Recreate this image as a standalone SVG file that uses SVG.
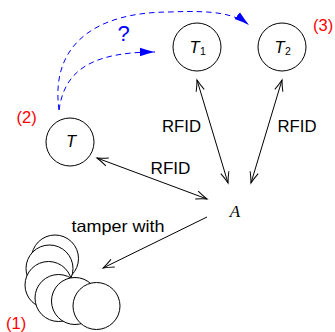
<svg xmlns="http://www.w3.org/2000/svg" width="335" height="332" viewBox="0 0 335 332">
<style>
.node{fill:#fff;stroke:#000;stroke-width:1}
.lbl{font-family:"Liberation Sans",Arial,sans-serif;font-size:16.5px;fill:#000}
.num{font-family:"Liberation Sans",Arial,sans-serif;font-size:16.5px;fill:#ff0000}
.it{font-family:"Liberation Sans",Arial,sans-serif;font-style:italic;font-size:16.5px;fill:#000}
.sub{font-family:"Liberation Sans",Arial,sans-serif;font-size:10.5px;fill:#000}
.arr{stroke:#000;stroke-width:1;fill:none}
.dash{stroke:#0000ff;stroke-width:1;fill:none;stroke-dasharray:5.5 4}
</style>
<defs>
<marker id="open" markerUnits="userSpaceOnUse" markerWidth="14" markerHeight="12" viewBox="-12 -6 14 12" refX="0" refY="0" orient="auto-start-reverse">
<path d="M-11,-4.2 Q-5,-1.5 0,0 Q-5,1.5 -11,4.2" fill="none" stroke="#000" stroke-width="1"/>
</marker>
<marker id="blue" markerUnits="userSpaceOnUse" markerWidth="16" markerHeight="10" viewBox="-15 -5 16 10" refX="0" refY="0" orient="auto">
<path d="M-15,-4.3 Q-7,-1.5 0,0 Q-7,1.5 -15,4.3 Z" fill="#0000ff"/>
</marker>
</defs>
<g id="connectors">
<line class="arr" x1="197" y1="80" x2="228" y2="183" marker-start="url(#open)" marker-end="url(#open)"/>
<line class="arr" x1="282" y1="80" x2="251" y2="183" marker-start="url(#open)" marker-end="url(#open)"/>
<line class="arr" x1="97" y1="158" x2="207" y2="199" marker-start="url(#open)" marker-end="url(#open)"/>
<line class="arr" x1="207" y1="217" x2="103" y2="268" marker-end="url(#open)"/>
<path class="dash" d="M59,110 C50,45 95,12 170,12 C215,10 235,14 249,25" marker-end="url(#blue)"/>
<path class="dash" d="M59,110 C64,75 85,52 155,52" marker-end="url(#blue)"/>
<text class="lbl" x="162" y="132" textLength="39" lengthAdjust="spacingAndGlyphs">RFID</text>
<text class="lbl" x="277.5" y="132" textLength="39" lengthAdjust="spacingAndGlyphs">RFID</text>
<text class="lbl" x="150.5" y="174" textLength="40" lengthAdjust="spacingAndGlyphs">RFID</text>
<text class="lbl" x="71.5" y="231.5" textLength="93" lengthAdjust="spacingAndGlyphs">tamper with</text>
<text x="123.5" y="41" text-anchor="middle" font-family="Liberation Sans, Arial, sans-serif" font-size="22" fill="#0000ff">?</text>
</g>
<g id="T1">
<circle class="node" cx="197" cy="47" r="24"/>
<text class="it" x="189.5" y="52.7">T</text>
<text class="sub" x="200" y="55">1</text>
</g>
<g id="T2">
<circle class="node" cx="282" cy="47" r="24"/>
<text class="it" x="274.5" y="52.7">T</text>
<text class="sub" x="285" y="55">2</text>
<text class="num" x="313" y="30.5">(3)</text>
</g>
<g id="T">
<circle class="node" cx="70" cy="142" r="24"/>
<text class="it" x="71" y="146.7" text-anchor="middle">T</text>
<text class="num" x="16.5" y="122.7">(2)</text>
</g>
<g id="A">
<text x="235" y="217" text-anchor="middle" font-family="Liberation Serif, Times New Roman, serif" font-style="italic" font-size="17" fill="#000">A</text>
</g>
<g id="tags">
<circle class="node" cx="55" cy="258.5" r="23.5"/>
<circle class="node" cx="49.5" cy="268.5" r="23.5"/>
<circle class="node" cx="48.5" cy="285" r="23.5"/>
<circle class="node" cx="58.5" cy="298" r="23.5"/>
<circle class="node" cx="75" cy="301" r="23.5"/>
<circle class="node" cx="96.5" cy="306" r="23.5"/>
<text class="num" x="6" y="328.5">(1)</text>
</g>
</svg>
